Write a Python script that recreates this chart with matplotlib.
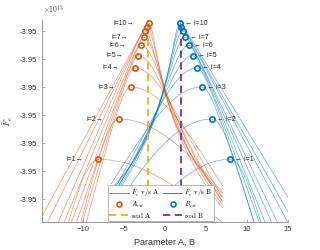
import numpy as np
import matplotlib
matplotlib.use("Agg")
import matplotlib.pyplot as plt
from matplotlib.ticker import FixedLocator, FuncFormatter

plt.rcParams['font.family'] = ['Liberation Sans', 'DejaVu Sans']
plt.rcParams['mathtext.fontset'] = 'cm'

# ---- data (F values in units of 1e13) ----
iters = [1, 2, 3, 4, 5, 6, 7, 8, 9, 10]
labelled = [1, 2, 3, 4, 5, 6, 7, 10]
F_peak = [-3.951582, -3.950143, -3.949000, -3.948321, -3.947882,
          -3.947511, -3.947225, -3.947000, -3.946846, -3.946725]
A_est = [-8.09, -5.59, -4.17, -3.65, -3.24, -2.88, -2.56, -2.44, -2.15, -1.95]
B_est = [7.96, 5.78, 4.53, 3.93, 3.39, 2.95, 2.50, 2.21, 1.97, 1.81]
A_real = -2.0
B_real = 2.0

# shape of each slice, drops in units of 1e10 (= 1e-3 on the 1e13 axis)
# steep arm (away from the real value): asymptotic slope per unit and peak rounding width
A_left_slope = [1.32, 1.21, 1.14, 0.99, 0.87, 0.79, 0.71, 0.67, 0.59, 0.54]
A_left_width = [3.0, 2.0, 1.3, 0.9, 0.7, 0.5, 0.4, 0.35, 0.3, 0.25]
B_right_slope = [1.26, 1.07, 0.93, 0.82, 0.73, 0.66, 0.61, 0.55, 0.52, 0.48]
B_right_width = [3.0, 2.0, 1.3, 0.9, 0.7, 0.5, 0.4, 0.35, 0.3, 0.25]
# arm towards the real value: log-shaped, scale and width
A_right_scale = [5.0, 7.86, 5.64, 3.86, 2.57, 2.14, 1.88, 1.70, 1.43, 1.27]
A_right_width = [20, 20, 12, 7, 4, 2.8, 2, 1.5, 1.1, 0.82]
B_left_scale = [8.64, 10.71, 5.64, 3.86, 2.57, 2.14, 1.88, 1.70, 1.43, 1.27]
B_left_width = [20, 20, 12, 7, 4, 2.8, 2, 1.5, 1.1, 0.82]
A_range = (-15, 7)
B_range = (-6.5, 15)

yticks = [-3.953, -3.952, -3.951, -3.950, -3.949, -3.948, -3.947]
xticks = [-10, -5, 0, 5, 10, 15]

c_A = '#D95319'
c_B = '#0072BD'
c_rA = '#EDB120'
c_rB = '#7E2F8E'


def slice_curve(x, px, py, slope, w_steep, scale, w_soft, steep_left):
    d = x - px
    steep = slope * (np.sqrt(d ** 2 + w_steep ** 2) - w_steep)
    soft = scale * np.log1p((d / w_soft) ** 2)
    if steep_left:
        drop = np.where(d < 0, steep, soft)
    else:
        drop = np.where(d > 0, steep, soft)
    return py - drop * 1e-3


fig = plt.figure(figsize=(3.2, 2.5), dpi=100)
ax = fig.add_axes([0.130, 0.112, 0.770, 0.808])

xa = np.linspace(A_range[0], A_range[1], 800)
xb = np.linspace(B_range[0], B_range[1], 800)
for k in range(len(iters)):
    ax.plot(xa, slice_curve(xa, A_est[k], F_peak[k], A_left_slope[k], A_left_width[k],
                            A_right_scale[k], A_right_width[k], True),
            color=c_A, lw=0.5, alpha=0.6, zorder=2)
    ax.plot(xb, slice_curve(xb, B_est[k], F_peak[k], B_right_slope[k], B_right_width[k],
                            B_left_scale[k], B_left_width[k], False),
            color=c_B, lw=0.5, alpha=0.6, zorder=2)

ax.plot(A_est, F_peak, 'o', ms=3.8, mfc='none', mec=c_A, mew=1.2, zorder=4)
ax.plot(B_est, F_peak, 'o', ms=3.8, mfc='none', mec=c_B, mew=1.2, zorder=4)
ax.axvline(A_real, color=c_rA, lw=1.3, ls=(0, (4, 2.5)), zorder=3)
ax.axvline(B_real, color=c_rB, lw=1.3, ls=(0, (4, 2.5)), zorder=3)

for k, it in enumerate(iters):
    if it in labelled:
        ax.annotate('i=%d\u2192' % it, (A_est[k], F_peak[k]), xytext=(-11, 0),
                    textcoords='offset points', ha='right', va='center',
                    fontsize=5, color='#222222')
        ax.annotate('\u2190 i=%d' % it, (B_est[k], F_peak[k]), xytext=(3.5, 0),
                    textcoords='offset points', ha='left', va='center',
                    fontsize=5, color='#222222')

ax.set_xlim(-15, 15)
ax.set_ylim(-3.9538214, -3.9466071)
ax.xaxis.set_major_locator(FixedLocator(xticks))
ax.yaxis.set_major_locator(FixedLocator(yticks))
ax.yaxis.set_major_formatter(FuncFormatter(lambda v, p: '%.2f' % v))
for sp in ['top', 'right']:
    ax.spines[sp].set_visible(False)
for sp in ['left', 'bottom']:
    ax.spines[sp].set_color('#888888')
    ax.spines[sp].set_linewidth(0.6)
ax.tick_params(direction='in', length=2, width=0.5, color='#888888',
               labelsize=5.5, labelcolor='#333333', pad=3)
ax.set_xlabel('Parameter A, B', fontsize=6.5, color='#333333', labelpad=3)
ax.set_ylabel(r'$\hat{F}_e$', fontsize=7, color='#333333', labelpad=4)
fig.text(0.133, 0.935, r'$\times10^{13}$', fontsize=5.5, color='#444444',
         ha='left', va='bottom')

h1, = ax.plot([], [], color=c_A, lw=0.6)
h2, = ax.plot([], [], 'o', ms=3.5, mfc='none', mec=c_A, mew=1.2)
h3, = ax.plot([], [], color=c_rA, lw=1.3, ls=(0, (4, 2.5)))
h4, = ax.plot([], [], color=c_B, lw=0.6)
h5, = ax.plot([], [], 'o', ms=3.5, mfc='none', mec=c_B, mew=1.2)
h6, = ax.plot([], [], color=c_rB, lw=1.3, ls=(0, (4, 2.5)))
leg = ax.legend([h1, h2, h3, h4, h5, h6],
                [r'$\hat{F}_e\ \mathrm{v/s\ A}$', r'$A_{est}$', r'$\mathrm{real\ A}$',
                 r'$\hat{F}_e\ \mathrm{v/s\ B}$', r'$B_{est}$', r'$\mathrm{real\ B}$'],
                ncol=2, loc='lower left', bbox_to_anchor=(0.3375, 0.116),
                bbox_transform=fig.transFigure, fontsize=5, frameon=True,
                fancybox=False, edgecolor='#999999', framealpha=1,
                borderpad=0.2, labelspacing=0.1, handlelength=2.8,
                handletextpad=0.3, columnspacing=0.5, borderaxespad=0)
leg.get_frame().set_linewidth(0.5)
leg.set_zorder(10)

fig.savefig('out.png', dpi=100)
